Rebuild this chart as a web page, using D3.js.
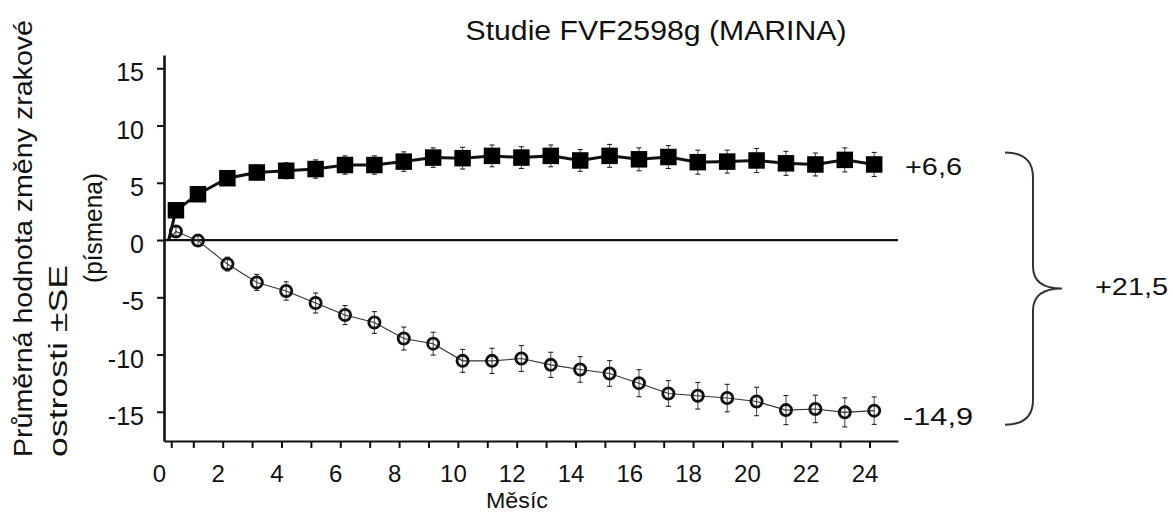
<!DOCTYPE html>
<html><head><meta charset="utf-8">
<script src="https://cdn.jsdelivr.net/npm/d3@7"></script>
<style>
body{margin:0;background:#fff}
svg{display:block}
text{font-family:Arial,"Liberation Sans",sans-serif;fill:#111}
</style>
</head><body>
<svg id="chart" width="1173" height="515"></svg>
<script>
// ---- data ----
const title = "Studie FVF2598g (MARINA)";
const yLabelLines = ["Průměrná hodnota změny zrakové", "ostrosti ±SE"];
const yLabelUnit = "(písmena)";
const xLabel = "Měsíc";
const months = [0.25, 1, 2, 3, 4, 5, 6, 7, 8, 9, 10, 11, 12, 13, 14, 15, 16, 17, 18, 19, 20, 21, 22, 23, 24];
const ranibizumab = [2.6, 4.0, 5.4, 5.9, 6.05, 6.2, 6.55, 6.55, 6.85, 7.2, 7.15, 7.35, 7.2, 7.35, 6.95, 7.35, 7.05, 7.25, 6.8, 6.85, 6.95, 6.7, 6.6, 7.0, 6.6];
const ranibizumabSE = [0.4, 0.5, 0.6, 0.65, 0.7, 0.8, 0.8, 0.8, 0.85, 0.85, 0.95, 0.95, 0.95, 0.95, 0.95, 1.0, 1.0, 1.0, 1.05, 1.0, 1.05, 1.05, 1.0, 1.05, 1.05];
const sham = [0.75, -0.05, -2.1, -3.7, -4.45, -5.5, -6.55, -7.2, -8.6, -9.05, -10.55, -10.55, -10.35, -10.9, -11.3, -11.65, -12.5, -13.4, -13.6, -13.8, -14.1, -14.85, -14.75, -15.05, -14.9];
const shamSE = [0.4, 0.45, 0.6, 0.7, 0.8, 0.87, 0.83, 0.95, 1.0, 1.0, 1.0, 1.1, 1.13, 1.1, 1.12, 1.12, 1.18, 1.12, 1.16, 1.2, 1.24, 1.27, 1.2, 1.27, 1.2];
const originMonth = 0, originValue = 0;
const xTickLabels = [0, 2, 4, 6, 8, 10, 12, 14, 16, 18, 20, 22, 24];
const yTickValues = [-15, -10, -5, 0, 5, 10, 15];
const endLabelTreated = "+6,6";
const endLabelSham = "-14,9";
const diffLabel = "+21,5";

// ---- layout ----
const svg = d3.select("#chart");
const x = d3.scaleLinear().domain([-0.156, 24.81]).range([164, 898]);
const y = d3.scaleLinear().domain([-17.55, 16.16]).range([441, 55]);
const tickShift = -4.7, labelShift = -9.7;
const FONT = "Arial, 'Liberation Sans', sans-serif";

// title
svg.append("text").attr("x", 656).attr("y", 39.5).attr("text-anchor", "middle")
  .attr("font-size", 27).attr("textLength", 381).attr("lengthAdjust", "spacingAndGlyphs").text(title);

// y axis
const yAxis = svg.append("g").attr("transform", `translate(${x.range()[0]},0)`)
  .call(d3.axisLeft(y).tickValues(yTickValues).tickSize(7).tickSizeOuter(0).tickPadding(13).tickFormat(d => String(d)));
yAxis.select(".domain").attr("stroke", "#111").attr("stroke-width", 2.6);
yAxis.selectAll(".tick line").attr("stroke", "#111").attr("stroke-width", 2);
yAxis.selectAll(".tick text").attr("font-size", 25).attr("font-family", FONT).attr("fill", "#111").attr("dy", "0.5em");

// x axis domain line
const xDom = svg.append("g").attr("transform", `translate(0,${y.range()[0]})`)
  .call(d3.axisBottom(x).tickValues([]).tickSizeOuter(0));
xDom.select(".domain").attr("stroke", "#111").attr("stroke-width", 2.2);

// x tick marks
const xTicks = svg.append("g").attr("transform", `translate(${tickShift},${y.range()[0]})`)
  .call(d3.axisBottom(x).tickValues(months).tickSize(7).tickSizeOuter(0).tickFormat(""));
xTicks.select(".domain").remove();
xTicks.selectAll(".tick line").attr("stroke", "#111").attr("stroke-width", 2);

// x tick labels
const xLabs = svg.append("g").attr("transform", `translate(${labelShift},${y.range()[0]})`)
  .call(d3.axisBottom(x).tickValues(xTickLabels).tickSize(0).tickPadding(23.5).tickFormat(d => String(d)));
xLabs.select(".domain").remove();
xLabs.selectAll(".tick text").attr("font-size", 24).attr("font-family", FONT).attr("fill", "#111");

// x label
svg.append("text").attr("x", 517).attr("y", 508).attr("text-anchor", "middle").attr("font-size", 22)
  .attr("textLength", 62).attr("lengthAdjust", "spacingAndGlyphs").text(xLabel);

// y label (rotated)
svg.append("text").attr("transform", `translate(32,457) rotate(-90)`).attr("font-size", 25)
  .attr("textLength", 437).attr("lengthAdjust", "spacingAndGlyphs").text(yLabelLines[0]);
svg.append("text").attr("transform", `translate(67,457) rotate(-90)`).attr("font-size", 25)
  .attr("textLength", 192).attr("lengthAdjust", "spacingAndGlyphs").text(yLabelLines[1]);
svg.append("text").attr("transform", `translate(102,228) rotate(-90)`).attr("font-size", 25).attr("text-anchor", "middle")
  .attr("textLength", 110).attr("lengthAdjust", "spacingAndGlyphs").text(yLabelUnit);

// zero line
svg.append("line").attr("x1", x.range()[0]).attr("x2", x.range()[1]).attr("y1", y(0)).attr("y2", y(0))
  .attr("stroke", "#111").attr("stroke-width", 2.2);

const treated = months.map((m, i) => ({m, v: ranibizumab[i], se: ranibizumabSE[i]}));
const control = months.map((m, i) => ({m, v: sham[i], se: shamSE[i]}));

function errorBars(data) {
  const g = svg.append("g").attr("stroke", "#555").attr("stroke-width", 1.1);
  g.selectAll("line.v").data(data).join("line").attr("class", "v")
    .attr("x1", d => x(d.m)).attr("x2", d => x(d.m)).attr("y1", d => y(d.v + d.se)).attr("y2", d => y(d.v - d.se));
  g.selectAll("line.t").data(data).join("line").attr("class", "t")
    .attr("x1", d => x(d.m) - 2.5).attr("x2", d => x(d.m) + 2.5).attr("y1", d => y(d.v + d.se)).attr("y2", d => y(d.v + d.se)).attr("stroke", "#222");
  g.selectAll("line.b").data(data).join("line").attr("class", "b")
    .attr("x1", d => x(d.m) - 2.5).attr("x2", d => x(d.m) + 2.5).attr("y1", d => y(d.v - d.se)).attr("y2", d => y(d.v - d.se)).attr("stroke", "#222");
}
errorBars(control);
errorBars(treated);

const line = d3.line().x(d => x(d.m)).y(d => y(d.v));
const origin = {m: originMonth, v: originValue};
svg.append("path").attr("d", line([origin, ...control])).attr("fill", "none").attr("stroke", "#333").attr("stroke-width", 1.1);
svg.append("path").attr("d", line([origin, ...treated])).attr("fill", "none").attr("stroke", "#111").attr("stroke-width", 3);

// markers
svg.append("g").selectAll("circle").data(control).join("circle")
  .attr("cx", d => x(d.m)).attr("cy", d => y(d.v)).attr("r", 5.6)
  .attr("fill", "none").attr("stroke", "#111").attr("stroke-width", 2.8);
const sq = 16.5;
svg.append("g").selectAll("rect").data(treated).join("rect")
  .attr("x", d => x(d.m) - sq / 2).attr("y", d => y(d.v) - sq / 2).attr("width", sq).attr("height", sq)
  .attr("fill", "#000");

// end labels
const lastT = ranibizumab[ranibizumab.length - 1], lastS = sham[sham.length - 1];
svg.append("text").attr("x", 905).attr("y", y(lastT) + 10.6).attr("font-size", 24)
  .attr("textLength", 57).attr("lengthAdjust", "spacingAndGlyphs").text(endLabelTreated);
svg.append("text").attr("x", 903).attr("y", y(lastS) + 14.4).attr("font-size", 24)
  .attr("textLength", 70).attr("lengthAdjust", "spacingAndGlyphs").text(endLabelSham);

// brace
const bTop = y(lastT) - 12, bBot = y(lastS) + 14, bMid = (bTop + bBot) / 2;
const bx0 = 1005, bx1 = 1033, bx2 = 1062;
const bp = d3.path();
bp.moveTo(bx0, bTop);
bp.quadraticCurveTo(bx1, bTop, bx1, bTop + 25);
bp.lineTo(bx1, bMid - 22);
bp.quadraticCurveTo(bx1, bMid, bx2, bMid);
bp.quadraticCurveTo(bx1, bMid, bx1, bMid + 22);
bp.lineTo(bx1, bBot - 25);
bp.quadraticCurveTo(bx1, bBot, bx0, bBot);
svg.append("path").attr("d", bp.toString()).attr("fill", "none").attr("stroke", "#333").attr("stroke-width", 2);

svg.append("text").attr("x", 1095).attr("y", bMid + 6.5).attr("font-size", 24)
  .attr("textLength", 73).attr("lengthAdjust", "spacingAndGlyphs").text(diffLabel);
</script>
</body></html>
